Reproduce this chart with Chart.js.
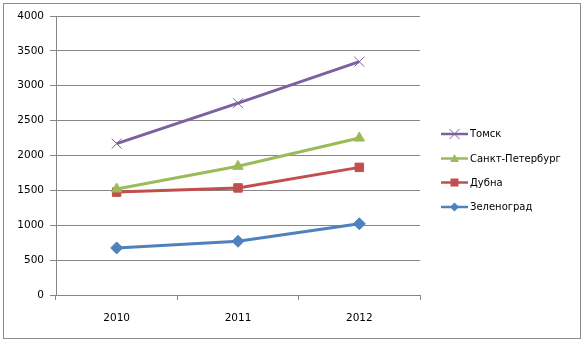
<!DOCTYPE html>
<html>
<head>
<meta charset="utf-8">
<script src="https://cdn.jsdelivr.net/npm/chart.js@4"></script>
<style>
  html, body { margin: 0; padding: 0; background: #fff; }
  #wrap { width: 584px; height: 344px; }
</style>
</head>
<body>
<div id="wrap"><canvas id="chart" width="584" height="344"></canvas></div>
<script>
// chart data
const years = ['2010', '2011', '2012'];
const tomsk = [2170, 2750, 3345];
const spb = [1520, 1845, 2250];
const dubna = [1475, 1535, 1830];
const zelenograd = [675, 770, 1020];
const seriesNames = ['Томск', 'Санкт-Петербург', 'Дубна', 'Зеленоград'];

const FONT = 'DejaVu Sans';

function drawMarker(ctx, style, x, y, r) {
    ctx.save();
    if (style === 'crossRot') {
        ctx.beginPath();
        ctx.moveTo(x - r, y - r); ctx.lineTo(x + r, y + r);
        ctx.moveTo(x - r, y + r); ctx.lineTo(x + r, y - r);
        ctx.stroke();
    } else if (style === 'triangle') {
        ctx.beginPath();
        ctx.moveTo(x, y - r - 0.5); ctx.lineTo(x + r + 0.5, y + r - 0.5); ctx.lineTo(x - r - 0.5, y + r - 0.5);
        ctx.closePath(); ctx.fill();
    } else if (style === 'rect') {
        ctx.fillRect(x - r, y - r, 2 * r, 2 * r);
    } else if (style === 'rectRot') {
        ctx.beginPath();
        ctx.moveTo(x, y - r - 0.5); ctx.lineTo(x + r + 0.5, y); ctx.lineTo(x, y + r + 0.5); ctx.lineTo(x - r - 0.5, y);
        ctx.closePath(); ctx.fill();
    }
    ctx.restore();
}

// Excel-like legend on the right: line + marker + name, plus the outer frame
const sideLegend = {
    id: 'sideLegend',
    afterDraw(chart) {
        const ctx = chart.ctx;
        const rows = [134, 158.5, 182.5, 207];
        ctx.save();
        chart.data.datasets.forEach((ds, i) => {
            const y = rows[i];
            ctx.strokeStyle = ds.borderColor;
            ctx.lineWidth = 2.5;
            ctx.beginPath();
            ctx.moveTo(441, y);
            ctx.lineTo(468, y);
            ctx.stroke();
            ctx.fillStyle = ds.pointBackgroundColor;
            ctx.strokeStyle = ds.pointBorderColor;
            ctx.lineWidth = 1;
            drawMarker(ctx, ds.pointStyle, 454.5, y, ds.pointStyle === 'crossRot' ? 5 : 4);
            ctx.fillStyle = '#000';
            ctx.font = '10px ' + FONT;
            ctx.textBaseline = 'middle';
            ctx.textAlign = 'left';
            ctx.fillText(ds.label, 470, y + 0.5);
        });
        ctx.restore();

        ctx.save();
        ctx.strokeStyle = '#8c8c8c';
        ctx.lineWidth = 1;
        ctx.strokeRect(3.5, 3.5, 577, 335);
        ctx.restore();
    }
};

function line(label, data, color, style, radius) {
    return {
        label: label,
        data: data,
        borderColor: color,
        backgroundColor: color,
        borderWidth: 3,
        pointStyle: style,
        pointRadius: radius,
        pointHoverRadius: radius,
        pointBackgroundColor: color,
        pointBorderColor: color,
        pointBorderWidth: 1,
        tension: 0
    };
}

new Chart(document.getElementById('chart'), {
    type: 'line',
    data: {
        labels: years,
        datasets: [
            line(seriesNames[0], tomsk, '#7d60a0', 'crossRot', 7),
            line(seriesNames[1], spb, '#9bbb59', 'triangle', 6),
            line(seriesNames[2], dubna, '#c0504d', 'rect', 6),
            line(seriesNames[3], zelenograd, '#4f81bd', 'rectRot', 6)
        ]
    },
    options: {
        responsive: false,
        animation: false,
        layout: { padding: { left: 0, right: 164, top: 16, bottom: 0 } },
        plugins: {
            legend: { display: false },
            tooltip: { enabled: false }
        },
        scales: {
            x: {
                offset: true,
                grid: {
                    offset: true,
                    drawOnChartArea: false,
                    color: '#868686',
                    tickLength: 5
                },
                border: { color: '#868686' },
                ticks: {
                    color: '#000',
                    font: { family: FONT, size: 10.5 },
                    padding: 12
                },
                afterFit(scale) { scale.height = 49; }
            },
            y: {
                min: 0,
                max: 4000,
                grid: { color: '#868686', tickLength: 6 },
                border: { color: '#868686' },
                ticks: {
                    stepSize: 500,
                    color: '#000',
                    font: { family: FONT, size: 10.5 },
                    padding: 6,
                    callback: v => String(v)
                },
                afterFit(scale) { scale.width = 56; }
            }
        }
    },
    plugins: [sideLegend]
});
</script>
</body>
</html>
